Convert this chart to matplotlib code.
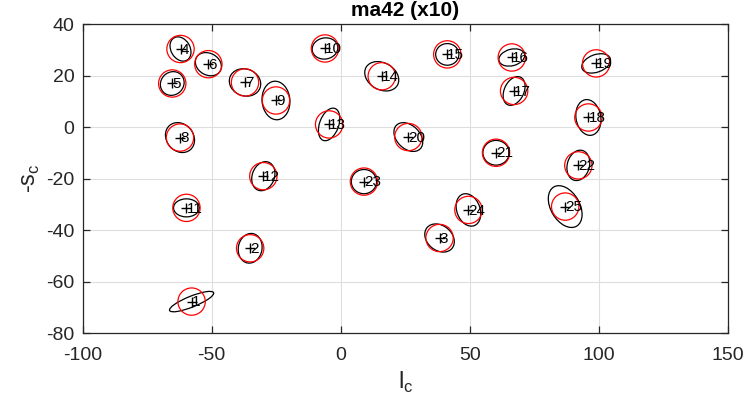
import matplotlib
matplotlib.use("Agg")
import matplotlib.pyplot as plt
from matplotlib.patches import Ellipse, Circle

plt.rcParams['font.family'] = ['Liberation Sans', 'DejaVu Sans']
plt.rcParams['mathtext.fontset'] = 'custom'
plt.rcParams['mathtext.rm'] = 'Liberation Sans'
plt.rcParams['axes.unicode_minus'] = False

# source numbers
ids = list(range(1, 26))
lc = [-57.8, -35.1, 38.3, -62.1, -65.3, -51.3, -37.1, -62.3, -25.1, -6.1,
      -59.8, -30.0, -4.5, 15.9, 41.3, 66.3, 67.2, 96.0, 99.0, 26.2,
      60.2, 92.1, 9.0, 49.5, 87.0]
sc = [-67.8, -47.1, -43.1, 30.3, 16.9, 24.4, 17.3, -4.1, 10.3, 30.5,
      -31.4, -19.1, 1.0, 19.7, 28.2, 27.0, 14.0, 3.7, 24.7, -3.9,
      -10.0, -14.9, -21.2, -32.2, -30.9]

# fitted ellipses (semi axes + angle) and reference circle radius
ell_a = [9.2, 5.8, 6.3, 5.0, 4.8, 5.3, 6.2, 6.2, 7.5, 5.0,
         5.0, 5.8, 6.6, 7.0, 4.5, 5.1, 5.9, 7.0, 5.8, 6.5,
         5.1, 6.0, 4.9, 6.5, 8.8]
ell_b = [2.1, 4.6, 4.8, 3.7, 4.4, 4.2, 5.2, 5.2, 5.4, 4.1,
         3.5, 4.3, 3.7, 5.2, 4.2, 3.2, 3.8, 4.8, 3.4, 4.5,
         4.8, 4.3, 4.7, 4.5, 5.6]
ell_ang = [22, 80, -40, 120, 45, 150, -20, -50, 95, 10,
           0, 70, 70, -30, 0, 15, 65, 100, 20, -45,
           0, 75, 0, 110, 120]
r_circ = 5.3

fig = plt.figure(figsize=(7.48, 4.09), dpi=100)
ax = fig.add_axes([0.1106, 0.1858, 0.8623, 0.7555])

for i in range(len(ids)):
    ax.add_patch(Ellipse((lc[i], sc[i]), 2 * ell_a[i], 2 * ell_b[i], angle=ell_ang[i],
                         fill=False, edgecolor='black', lw=0.9))
for i in range(len(ids)):
    ax.add_patch(Circle((lc[i], sc[i]), r_circ, fill=False, edgecolor='red', lw=0.9))

ax.plot(lc, sc, 'k+', ms=7.5, mew=1.0, ls='none')
for i in range(len(ids)):
    ax.annotate(str(ids[i]), (lc[i], sc[i]), xytext=(0, -0.5), textcoords='offset points',
                ha='left', va='center', fontsize=11, color='black')

ax.set_xlim(-100, 150)
ax.set_ylim(-80, 40)
ax.set_xticks([-100, -50, 0, 50, 100, 150])
ax.set_yticks([-80, -60, -40, -20, 0, 20, 40])
ax.grid(True, color='#dedede', lw=0.8)
ax.set_axisbelow(True)
for s in ax.spines.values():
    s.set_color('#262626')
    s.set_linewidth(0.9)
ax.tick_params(direction='in', top=True, right=True, length=5, width=0.9,
               colors='#262626', labelsize=14)
ax.tick_params(axis='x', pad=10)
ax.tick_params(axis='y', pad=6)

ax.set_title('ma42 (x10)', fontsize=15, fontweight='bold', pad=6)
ax.set_xlabel(r'l$_{\mathrm{c}}$', fontsize=17, color='#262626', labelpad=4)
ax.set_ylabel(r'-s$_{\mathrm{c}}$', fontsize=17, color='#262626', labelpad=3)

fig.savefig('out.png', dpi=100)
